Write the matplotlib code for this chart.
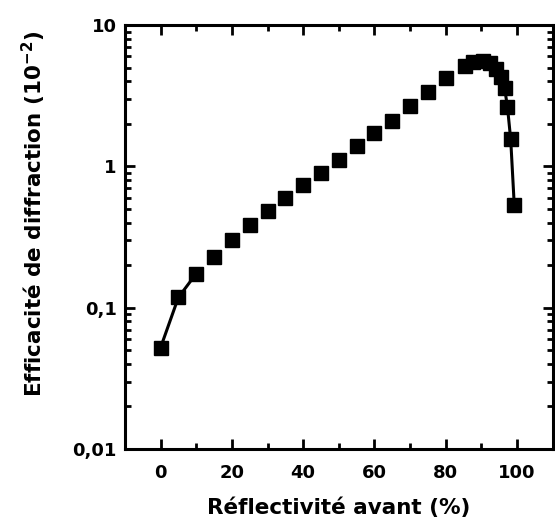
import numpy as np
import matplotlib.pyplot as plt
from matplotlib.ticker import FixedLocator, FixedFormatter, LogLocator, NullFormatter, MultipleLocator

# Data
Reflectivite = [0, 5, 10, 15, 20, 25, 30, 35, 40, 45, 50, 55, 60, 65, 70, 75, 80,
                85.3, 87.7, 90.5, 92.4, 94.2, 95.6, 96.5, 97.3, 98.2, 99.2]
Efficacite = [0.052, 0.118, 0.174, 0.230, 0.299, 0.382, 0.480, 0.596, 0.733, 0.902, 1.116,
              1.393, 1.72, 2.09, 2.67, 3.37, 4.19,
              5.12, 5.50, 5.60, 5.35, 4.88, 4.28, 3.57, 2.62, 1.55, 0.53]

YTick_Values = [0.01, 0.1, 1, 10]
YTick_Labels = ['0,01', '0,1', '1', '10']
XTick_Values = [0, 20, 40, 60, 80, 100]

plt.rcParams['font.family'] = ['DejaVu Sans']
plt.rcParams['font.weight'] = 'bold'

fig = plt.figure(figsize=(5.55, 5.22), dpi=100)
ax = fig.add_axes([0.225, 0.140, 0.771, 0.812])

# Line segments visible between the first and last few points
ax.plot(Reflectivite[:3], Efficacite[:3], color='k', linewidth=2.2)
ax.plot(Reflectivite[-4:], Efficacite[-4:], color='k', linewidth=2.2)

# Markers
ax.plot(Reflectivite, Efficacite, linestyle='none', marker='s', markersize=9.5,
        color='k', markeredgecolor='k')

# Axes configuration
ax.set_yscale('log')
ax.set_ylim(0.01, 10)
ax.set_xlim(-10, 110)

ax.yaxis.set_major_locator(FixedLocator(YTick_Values))
ax.yaxis.set_major_formatter(FixedFormatter(YTick_Labels))
ax.yaxis.set_minor_locator(LogLocator(base=10, subs=np.arange(2, 10)))
ax.yaxis.set_minor_formatter(NullFormatter())
ax.set_xticks(XTick_Values)
ax.xaxis.set_minor_locator(MultipleLocator(10))

ax.tick_params(which='both', direction='in', top=True, right=True, width=2)
ax.tick_params(which='major', length=7, labelsize=13)
ax.tick_params(axis='x', which='major', pad=11)
ax.tick_params(axis='y', which='major', pad=6)
ax.tick_params(which='minor', length=4)
for Spine in ax.spines.values():
	Spine.set_linewidth(2.2)

for Label in ax.get_xticklabels() + ax.get_yticklabels():
	Label.set_fontweight('bold')

ax.set_xlabel('Réflectivité avant (%)', fontsize=15.5, fontweight='bold', labelpad=11)
ax.set_ylabel('Efficacité de diffraction (10$^{\\mathbf{-2}}$)', fontsize=15.5, fontweight='bold')
ax.yaxis.set_label_coords(-0.18, 0.555)

plt.savefig('out.png', dpi=100)
plt.close('all')
